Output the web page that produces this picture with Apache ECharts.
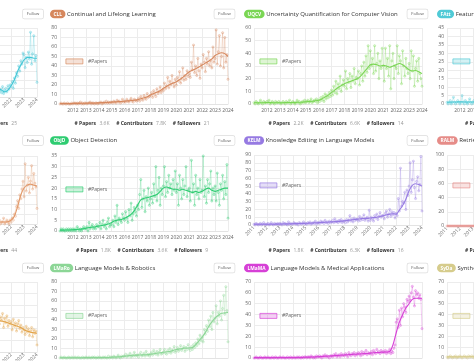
<!DOCTYPE html>
<html><head><meta charset="utf-8">
<script src="https://cdn.jsdelivr.net/npm/echarts@6/dist/echarts.min.js"></script>
<style>html,body{margin:0;padding:0;background:#fff}#c{width:474px;height:361px}</style>
</head><body><div id="c"></div>
<script>
// ---------- categories ----------
const years = [2011,2012,2013,2014,2015,2016,2017,2018,2019,2020,2021,2022,2023,2024];
const months = [];
years.forEach(y => { for (let m = 1; m <= 12; m++) { if (y === 2024 && m > 1) break; months.push(y + '-' + String(m).padStart(2, '0')); } });

// ---------- data (monthly raw counts, quarterly trend) ----------
const cllRaw = [0,1,0,0,1,0,0,1,0,0,0,1, 0,1,1,0,1,0,1,2,0,1,0,1, 1,0,1,1,2,0,1,1,0,1,1,0, 1,1,2,0,1,2,1,3,1,2,1,2,
  2,1,3,2,1,4,2,3,1,2,5,2, 3,2,5,3,2,4,6,3,2,5,4,3, 4,6,3,8,5,4,9,6,5,11,7,8, 9,12,7,14,10,8,16,11,13,18,12,15,
  14,22,16,19,28,17,24,20,30,22,18,26, 20,28,24,34,22,27,38,25,30,26,35,29, 32,28,44,36,62,33,40,30,48,35,27,42,
  38,52,44,34,48,42,55,40,46,38,60,44, 48,78,42,55,72,40,50,75,38,70,44,52, 26];
const cllTrend = [0.5,0.5,0.5,0.5, 0.6,0.7,0.7,0.8, 0.8,0.9,0.9,1.0, 1.2,1.4,1.5,1.7, 2.0,2.2,2.5,2.7, 3.0,3.3,3.7,4.0,
  4.5,5.5,6.5,7.5, 9.5,11,12.5,14, 16.5,18.5,20.5,22, 23.5,25.5,28,31, 34,35.5,37,39, 41,43,45,47.5, 51,53,54,53, 50];

const uqcvRaw = [1,0,2,1,0,1,3,1,0,2,1,1, 2,1,3,0,1,2,1,0,2,1,1,2, 1,0,1,2,1,0,2,1,1,3,0,1, 2,1,0,1,3,1,2,0,1,2,1,3,
  1,2,3,1,2,4,1,2,3,2,4,1, 3,2,5,3,6,2,8,4,7,5,9,6, 11,7,14,9,18,8,16,12,22,10,15,19, 14,26,12,20,17,24,13,22,18,28,16,21,
  20,26,15,24,30,18,33,22,38,25,46,28, 42,30,36,24,46,26,32,40,20,34,28,44, 30,18,44,28,36,22,46,12,34,40,20,30,
  28,46,24,38,34,16,42,30,22,36,28,24, 32,20,42,26,38,14,28,34,18,36,24,20, 14];
const uqcvTrend = [1,1,1,1, 1.2,1.1,1,1, 1,1,1.1,1.2, 1.2,1.3,1.4,1.5, 1.8,2,2.2,2.5, 3,4,5.5,7, 9,11,13,14.5,
  16,17,18,19, 20,22,25,28, 31,31.5,31,30, 30.5,30,29,30, 31,32,31,29, 27,26,26.5,25.5, 24];

const objdRaw = [0,1,0,1,0,0,1,0,1,0,1,0, 1,0,1,0,2,1,0,1,0,1,2,1, 1,2,0,4,1,2,3,1,2,1,3,2, 2,4,1,3,5,2,3,1,4,6,2,3,
  3,5,2,7,4,12,3,6,5,4,8,6, 5,9,6,4,10,7,13,5,8,11,9,7, 12,10,17,24,11,15,19,9,16,14,20,12, 15,18,13,22,16,30,14,19,25,12,20,17,
  21,30,16,23,18,26,20,22,17,24,19,28, 18,22,12,26,20,15,24,17,21,30,16,19, 20,14,33,18,22,12,26,17,20,15,24,18,
  19,35,16,21,13,24,18,22,28,14,20,17, 21,14,27,18,12,22,19,26,15,23,17,31, 6];
const objdTrend = [0.4,0.4,0.5,0.5, 0.6,0.7,0.8,1.0, 1.3,1.6,1.8,2.0, 2.3,2.6,2.9,3.3, 4,4.8,5.2,5.4, 6,6.8,7.8,9.5,
  12,14.5,15.3,15.5, 16,16.5,17,18.5, 20,20.5,20,19.5, 19.5,19,19.5,19, 18.5,18,18.5,18, 18.5,19.5,20,19, 18.5,19,19.5,20, 20];

const kelmRaw = [1,0,2,1,0,1,2,0,1,3,1,0, 1,2,0,1,3,1,0,2,1,1,2,0, 2,1,0,3,1,2,1,0,4,1,2,1, 1,3,2,1,2,0,3,2,1,2,4,1,
  2,1,3,2,4,1,2,3,2,5,1,3, 3,2,5,3,4,2,6,3,4,2,5,3, 4,6,3,8,4,5,3,6,4,7,3,5, 5,3,7,4,6,12,5,8,4,9,6,7,
  8,5,11,6,9,7,13,6,8,10,5,19, 6,10,8,5,12,9,14,7,11,16,10,12, 12,8,15,18,10,14,20,11,17,13,16,9,
  15,12,34,18,73,24,30,28,42,20,45,38, 50,80,42,58,82,48,34,56,62,44,52,88, 18];
const kelmTrend = [1,1,1,1, 1,1,1,1.1, 1.2,1.3,1.4,1.5, 1.6,1.8,2,2, 2.2,2.4,2.6,2.8, 3,3.2,3.5,3.8, 4,4.3,4.6,5,
  5.5,6,6.5,7, 7.5,8,8.5,8.5, 9,9.5,10,11, 12,13,14,14.5, 14,19,25,33, 44,51,53,52, 50];

const lmroRaw = [0,1,0,0,1,0,0,0,1,0,0,1, 0,0,1,0,0,1,0,0,0,1,0,0, 1,0,0,1,0,0,1,0,1,0,0,1, 0,1,0,0,1,0,1,0,0,2,0,1,
  1,0,2,1,0,1,3,1,0,2,1,2, 2,4,1,3,2,5,1,3,2,6,2,3, 3,1,4,6,2,3,5,2,7,3,4,2, 4,6,3,8,5,4,7,3,6,9,4,5,
  6,9,5,4,8,6,10,5,8,7,12,6, 8,11,7,9,13,8,10,12,7,11,9,14, 10,8,12,9,14,11,16,13,20,15,24,18,
  22,17,30,25,34,28,40,33,44,30,48,38, 42,55,36,48,44,60,40,52,66,46,75,50, 17];
const lmroTrend = [0.3,0.3,0.3,0.3, 0.3,0.3,0.3,0.3, 0.4,0.4,0.4,0.4, 0.4,0.5,0.5,0.6, 0.8,1,1.2,1.5, 2,2.4,2.7,3,
  3,3.2,3.4,3.5, 4,4.5,5,5.5, 6,6.5,7,8, 9,9.5,10,10.5, 10.5,11,14,18, 22,27,33,38, 42,45,47,47.5, 48];

const lmmaRaw = [0,0,1,0,0,0,1,0,0,0,1,0, 0,1,0,0,0,1,0,0,1,0,0,0, 1,0,0,1,0,0,0,1,0,0,1,0, 0,1,0,0,1,0,1,0,0,1,0,1,
  1,0,1,1,0,2,1,0,1,0,2,1, 1,2,1,0,2,1,3,1,2,1,0,2, 2,1,3,2,4,1,2,3,1,4,2,3, 2,4,3,1,5,3,2,4,3,5,2,4,
  3,5,4,2,6,3,5,4,7,3,5,4, 4,6,3,7,5,4,8,5,6,4,7,5, 6,5,7,4,6,5,8,4,6,5,9,12,
  33,36,28,44,30,46,38,50,47,42,54,52, 57,53,60,66,56,48,62,58,60,55,58,54, 27];
const lmmaTrend = [0.3,0.3,0.3,0.3, 0.3,0.3,0.3,0.4, 0.4,0.4,0.4,0.4, 0.5,0.5,0.5,0.6, 0.7,0.8,0.9,1, 1.2,1.4,1.6,1.8,
  2,2.2,2.4,2.6, 2.8,3,3.2,3.4, 3.6,3.8,4,4.2, 4.5,4.8,5,5.2, 5.4,5.5,6,12, 23,33,40,46, 50,54,55,55, 55];

// partially visible cards (left column: from 2020-07; right column: 2011-01 .. 2013-06)
const left1Raw = [8,12,6,10,7,9, 11,7,9,5,12,4,8,10,6,13,9,14, 12,18,10,22,16,28,24,36,30,42,38,51, 49,34,46,40,52,44,75,38,50,71,42,48, 17];
const left1Trend = [9,9, 10,8,6,8, 13,20,30,37, 43,46,46,45, 45];
const left2Raw = [1,0,1,2,0,1, 1,2,0,1,1,3,0,1,2,1,0,2, 1,3,2,5,4,9,12,8,15,13,18,22, 14,31,17,20,24,16,22,30,18,26,21,19, 8];
const left2Trend = [1,1, 1,1,1,1.2, 2,4,9,15, 18.5,20,20.5,20, 19.5];
const left3Raw = [30,26,34,22,28,31, 40,24,30,27,33,21,29,25,31,22,27,24, 26,19,28,22,25,18,24,27,20,23,17,21, 19,15,22,17,20,14,18,21,13,19,16,18, 6];
const left3Trend = [28,27.5, 27,26.5,26,25, 24,23,22,21, 19,18,17,16.5, 16];
const fattRaw = [1,0,1,2,0,1,4,1,0,1,2,1, 0,1,5,1,0,2,1,0,1,3,1,0, 1,2,0,1,1,2];
const fattTrend = [1,1.1,1.2,1.2,1.3,1.2,1.1,1.2,1.2,1.3];
const ralmRaw = [0,0,0,0,0,0,0,0,0,0,0,0, 0,0,0,0,0,0,0,0,0,0,0,0, 0,0,0,0,0,0];
const ralmTrend = [0,0,0,0,0,0,0,0,0,0];
const sydaRaw = [1,0,1,2,1,0,1,1,2,0,1,1, 2,1,0,1,2,1,1,0,2,1,1,2, 1,0,2,1,1,2];
const sydaTrend = [1,1,1,1,1.1,1.1,1.1,1.2,1.2,1.2];

// ---------- texts ----------
const cllStats = ['3.6K', '7.8K', '21'];
const uqcvStats = ['2.2K', '6.6K', '14'];
const objdStats = ['1.8K', '3.6K', '9'];
const kelmStats = ['1.8K', '6.3K', '16'];
const left1Followers = '25';
const left2Followers = '44';

// ---------- cards (data refs + style) ----------
const cards = [
  {key:'CLL',   title:'Continual and Lifelong Learning', color:[214,136,94],  raw:cllRaw,  rs:0,   trend:cllTrend,  ts:0,   yMax:80,  yInt:10, col:1, row:0, rot:false, stats:cllStats},
  {key:'UQCV',  title:'Uncertainty Quantification for Computer Vision', color:[122,214,84], raw:uqcvRaw, rs:0, trend:uqcvTrend, ts:0, yMax:60, yInt:10, col:2, row:0, rot:false, stats:uqcvStats},
  {key:'FAtt',  title:'Feature Attribution', color:[80,202,214], raw:fattRaw, rs:0, trend:fattTrend, ts:0, yMax:45, yInt:5, col:3, row:0, rot:false},
  {key:'L1',    color:[64,198,214], raw:left1Raw, rs:114, trend:left1Trend, ts:114, yMax:80, yInt:10, col:0, row:0, rot:true, followers:left1Followers},
  {key:'ObjD',  title:'Object Detection', color:[46,204,113], raw:objdRaw, rs:0, trend:objdTrend, ts:0, yMax:35, yInt:5, col:1, row:1, rot:false, stats:objdStats},
  {key:'KELM',  title:'Knowledge Editing in Language Models', color:[150,122,226], raw:kelmRaw, rs:0, trend:kelmTrend, ts:0, yMax:90, yInt:10, col:2, row:1, rot:true, stats:kelmStats},
  {key:'RALM',  title:'Retrieval-Augmented Language Models', color:[230,140,136], raw:ralmRaw, rs:0, trend:ralmTrend, ts:0, yMax:100, yInt:20, col:3, row:1, rot:true},
  {key:'L2',    color:[226,152,104], raw:left2Raw, rs:114, trend:left2Trend, ts:114, yMax:35, yInt:5, col:0, row:1, rot:true, followers:left2Followers},
  {key:'LMaRo', title:'Language Models & Robotics', color:[140,214,150], raw:lmroRaw, rs:0, trend:lmroTrend, ts:0, yMax:80, yInt:10, col:1, row:2, rot:false},
  {key:'LMaMA', title:'Language Models & Medical Applications', color:[214,64,214], raw:lmmaRaw, rs:0, trend:lmmaTrend, ts:0, yMax:70, yInt:10, col:2, row:2, rot:false},
  {key:'SyDa',  title:'Synthetic Data', color:[214,204,140], raw:sydaRaw, rs:0, trend:sydaTrend, ts:0, yMax:70, yInt:10, col:3, row:2, rot:false},
  {key:'L3',    color:[226,162,70], raw:left3Raw, rs:114, trend:left3Trend, ts:114, yMax:60, yInt:10, col:0, row:2, rot:true}
];

// ---------- layout ----------
const PLOT_W = 168;
const colPlotLeft = [-131, 60, 254, 447];
const colCenter = [-52, 142, 336, 530];
const colBadgeLeft = [-144, 50, 244, 437];
const colFollowX = [33, 224.5, 417.5, 611];
const rowTitleY = [14, 140.5, 268];
const rowStatsY = [124, 251];
const plotTB = {CLL:[28,104], UQCV:[28,104], FAtt:[28,104], L1:[28,97], ObjD:[156,231], KELM:[155,225], RALM:[155,226], L2:[156,224],
  LMaRo:[282,358], LMaMA:[282,358], SyDa:[282,358], L3:[282,352]};
const legendTop = [58.5, [186.5,182.5,182.5], 313];
const FONT = '"Open Sans","Noto Sans",sans-serif';
const rgba = (c, a) => `rgba(${c[0]},${c[1]},${c[2]},${a})`;

function place(arr, start, step) {
  const out = new Array(months.length).fill(null);
  arr.forEach((v, i) => { const k = start + i * step; if (k < out.length) out[k] = v; });
  return out;
}
const yearTick = (i) => i % 12 === 0;
const yearTickNoFirst = (i) => i % 12 === 0 && i > 0;

const grid = [], xAxis = [], yAxis = [], series = [], legend = [], graphic = [];
cards.forEach((cd, i) => {
  const tb = plotTB[cd.key];
  const left = colPlotLeft[cd.col];
  grid.push({left: left, top: tb[0], width: PLOT_W, height: tb[1] - tb[0], containLabel: false, outerBoundsMode: 'none'});
  xAxis.push({type: 'category', gridIndex: i, data: months, boundaryGap: false,
    axisLine: {show: true, lineStyle: {color: '#e3e3e3', width: 1}},
    axisTick: {show: false, interval: yearTick},
    axisLabel: {interval: cd.rot ? yearTick : yearTickNoFirst, rotate: cd.rot ? 45 : 0, hideOverlap: false,
      formatter: v => v.slice(0, 4), fontSize: 5, color: '#666', margin: cd.rot ? 2 : 4, fontFamily: FONT},
    splitLine: {show: true, interval: yearTick, lineStyle: {color: '#ececec', width: 1}}});
  yAxis.push({type: 'value', gridIndex: i, min: 0, max: cd.yMax, interval: cd.yInt,
    axisLine: {show: false}, axisTick: {show: false},
    axisLabel: {fontSize: 5, color: '#666', margin: 3, fontFamily: FONT},
    splitLine: {show: true, lineStyle: {color: '#ececec', width: 1}}});
  series.push({type: 'line', name: '#Papers', xAxisIndex: i, yAxisIndex: i, data: place(cd.raw, cd.rs, 1),
    symbol: 'circle', symbolSize: 2.2, showSymbol: true, showAllSymbol: true, connectNulls: false,
    lineStyle: {color: rgba(cd.color, 0.38), width: 0.7},
    itemStyle: {color: rgba(cd.color, 0.18), borderColor: rgba(cd.color, 0.55), borderWidth: 0.6},
    z: 2, silent: true, animation: false});
  series.push({type: 'line', name: 'trend', xAxisIndex: i, yAxisIndex: i, data: place(cd.trend, cd.ts, 3),
    connectNulls: true, smooth: 0.3, symbol: 'none', showSymbol: false,
    lineStyle: {color: rgba(cd.color, 1), width: 1.1}, z: 3, silent: true, animation: false});
  const lt = Array.isArray(legendTop[cd.row]) ? legendTop[cd.row][Math.min(cd.col, 3) - 1 >= 0 ? cd.col - 1 : 0] : legendTop[cd.row];
  legend.push({left: left + 5.5, top: lt, data: ['#Papers'], icon: 'rect', itemWidth: 17, itemHeight: 5, padding: 0,
    selectedMode: false, itemStyle: {color: rgba(cd.color, 0.25), borderColor: rgba(cd.color, 0.85), borderWidth: 0.8},
    textStyle: {fontSize: 5, color: '#666', fontFamily: FONT}});

  const ty = rowTitleY[cd.row];
  if (cd.title) {
    graphic.push({type: 'text', silent: true, style: {
      text: `{b|${cd.key}} ${cd.title}`, x: colBadgeLeft[cd.col], y: ty, align: 'left', verticalAlign: 'middle',
      fill: '#333', fontSize: 6, fontFamily: FONT,
      rich: {b: {backgroundColor: rgba(cd.color, 1), borderRadius: 4.5, padding: [2, 3.5, 1.6, 3.5], fill: '#fff', fontSize: 4.8, fontWeight: 'bold', fontFamily: FONT}}}});
  }
  graphic.push({type: 'text', silent: true, style: {
    text: 'Follow', x: colFollowX[cd.col], y: ty, align: 'center', verticalAlign: 'middle', fill: '#555', fontSize: 4.2, fontFamily: FONT,
    backgroundColor: '#fff', borderColor: '#dcdcdc', borderWidth: 0.7, borderRadius: 1.5, padding: [2.6, 3.8]}});
  if (cd.row < 2) {
    const sy = rowStatsY[cd.row];
    const rich = {k: {fontWeight: 'bold', fill: '#333', fontSize: 5, fontFamily: FONT}, v: {fill: '#999', fontSize: 5, fontFamily: FONT}};
    if (cd.stats) {
      graphic.push({type: 'text', silent: true, style: {
        text: `{k|# Papers} {v|${cd.stats[0]}}  {k|# Contributors} {v|${cd.stats[1]}}  {k|# followers} {v|${cd.stats[2]}}`,
        x: colCenter[cd.col], y: sy, align: 'center', verticalAlign: 'middle', rich: rich}});
    } else if (cd.followers) {
      graphic.push({type: 'text', silent: true, style: {
        text: `{k|# followers} {v|${cd.followers}}`, x: 17, y: sy, align: 'right', verticalAlign: 'middle', rich: rich}});
    } else if (cd.col === 3) {
      graphic.push({type: 'text', silent: true, style: {
        text: `{k|# Papers}`, x: 465, y: sy, align: 'left', verticalAlign: 'middle', rich: rich}});
    }
  }
});

const chart = echarts.init(document.getElementById('c'), null, {renderer: 'canvas'});
chart.setOption({animation: false, backgroundColor: '#fff', grid, xAxis, yAxis, series, legend, graphic});
</script></body></html>
